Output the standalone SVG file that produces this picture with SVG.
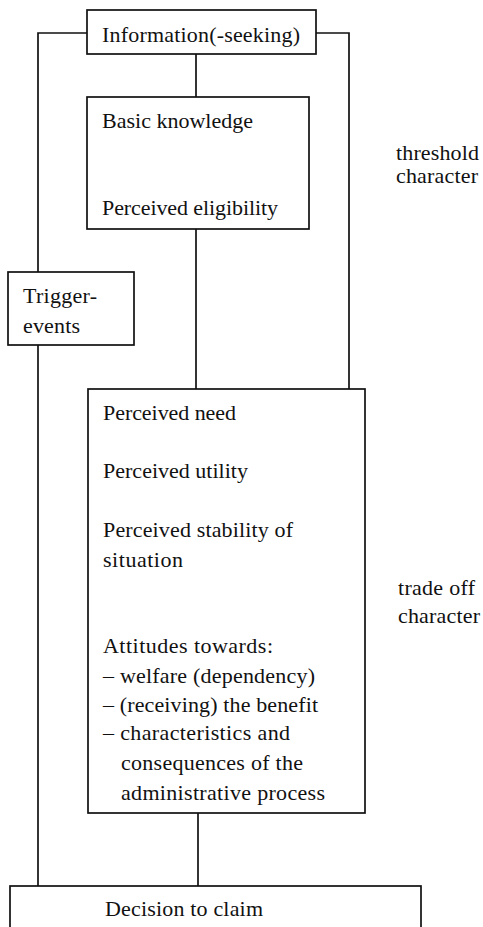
<svg xmlns="http://www.w3.org/2000/svg" width="483" height="927" viewBox="0 0 483 927">
<style>
.box{fill:#fff;stroke:#111;stroke-width:1.7}
.ln{fill:none;stroke:#111;stroke-width:1.7}
text{font-family:"Liberation Serif","Times New Roman",serif;font-size:22px;fill:#111}
</style>
<rect width="483" height="927" fill="#fff"/>
<g id="connectors">
<path class="ln" d="M87,33 H38 V272"/>
<path class="ln" d="M316,33 H349 V389"/>
<path class="ln" d="M196,54 V97"/>
<path class="ln" d="M196,229 V389"/>
<path class="ln" d="M38,345 V886"/>
<path class="ln" d="M198,813 V886"/>
</g>
<g id="information">
<rect class="box" x="87" y="10" width="229" height="44"/>
<text x="102" y="42" textLength="198">Information(-seeking)</text>
</g>
<g id="basic">
<rect class="box" x="87" y="97" width="222" height="132"/>
<text x="102" y="128" textLength="151">Basic knowledge</text>
<text x="102" y="215" textLength="176">Perceived eligibility</text>
</g>
<g id="threshold">
<text x="396" y="160" textLength="83">threshold</text>
<text x="396" y="183" textLength="82">character</text>
</g>
<g id="trigger">
<rect class="box" x="8" y="272" width="126" height="73"/>
<text x="23" y="303" textLength="74">Trigger-</text>
<text x="23" y="333" textLength="57">events</text>
</g>
<g id="tradeoff-box">
<rect class="box" x="88" y="389" width="277" height="424"/>
<text x="103" y="420" textLength="133">Perceived need</text>
<text x="103" y="478" textLength="145">Perceived utility</text>
<text x="103" y="537" textLength="190">Perceived stability of</text>
<text x="103" y="567" textLength="80">situation</text>
<text x="103" y="653" textLength="170">Attitudes towards:</text>
<text x="103" y="683" textLength="212">– welfare (dependency)</text>
<text x="103" y="712" textLength="215">– (receiving) the benefit</text>
<text x="103" y="740" textLength="187">– characteristics and</text>
<text x="121" y="770" textLength="182">consequences of the</text>
<text x="121" y="800" textLength="204">administrative process</text>
</g>
<g id="tradeoff">
<text x="398" y="595" textLength="77">trade off</text>
<text x="398" y="623" textLength="82">character</text>
</g>
<g id="decision">
<rect class="box" x="10" y="886" width="411" height="60"/>
<text x="105" y="916" textLength="158">Decision to claim</text>
</g>
</svg>
